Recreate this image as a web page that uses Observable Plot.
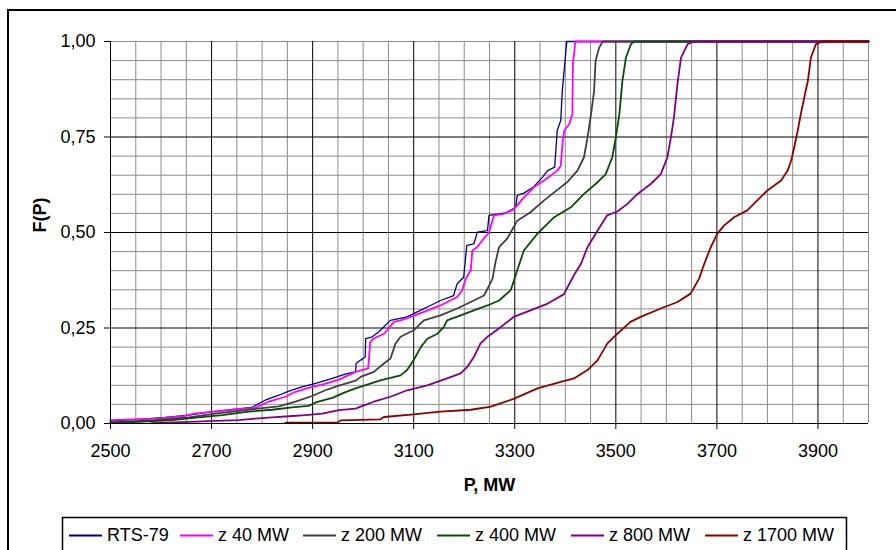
<!DOCTYPE html>
<html><head><meta charset="utf-8">
<script src="https://cdn.jsdelivr.net/npm/d3@7"></script>
<script src="https://cdn.jsdelivr.net/npm/@observablehq/plot@0.6"></script>
<style>
html,body{margin:0;padding:0;background:#fff;}
body{width:896px;height:550px;overflow:hidden;position:relative;font-family:"Liberation Sans",Arial,sans-serif;}
#chart{position:absolute;left:0;top:0;}
#overlay{position:absolute;left:0;top:0;pointer-events:none;}
</style>
</head><body>
<div id="chart"></div>
<svg id="overlay" width="896" height="550"></svg>
<script>
// ---- data ----
const seriesNames = ["RTS-79", "z 40 MW", "z 200 MW", "z 400 MW", "z 800 MW", "z 1700 MW"];
const seriesColors = ["#000080", "#ff00ff", "#404040", "#0a4a0a", "#800080", "#8b0000"];

const rtsP = [2500,2555,2608,2655,2701,2753,2780,2806,2833,2853,2879,2906,2939,2966,2985,2986,2995,3004,3005,3018,3031,3054,3087,3113,3133,3153,3179,3186,3199,3205,3219,3226,3246,3249,3282,3302,3305,3318,3337,3355,3365,3379,3384,3391,3394,3403,4000];
const rtsF = [0.007,0.011,0.016,0.022,0.031,0.038,0.042,0.061,0.074,0.085,0.096,0.105,0.118,0.13,0.135,0.157,0.166,0.174,0.222,0.227,0.24,0.27,0.279,0.296,0.309,0.322,0.335,0.366,0.383,0.466,0.47,0.501,0.505,0.545,0.551,0.566,0.597,0.603,0.619,0.645,0.662,0.671,0.767,0.793,0.87,1.0,1.0];

const z40P = [2500,2590,2645,2665,2712,2754,2787,2813,2846,2866,2892,2919,2952,2985,3010,3014,3020,3041,3047,3061,3074,3094,3120,3153,3186,3196,3203,3213,3216,3226,3239,3249,3259,3278,3295,3305,3318,3325,3338,3358,3384,3391,3395,3398,3408,3414,3415,3420,4000];
const z40F = [0.009,0.013,0.019,0.026,0.032,0.038,0.041,0.057,0.07,0.083,0.093,0.102,0.115,0.135,0.144,0.213,0.222,0.235,0.244,0.266,0.27,0.279,0.292,0.309,0.331,0.349,0.379,0.401,0.453,0.462,0.485,0.5,0.545,0.549,0.558,0.571,0.592,0.601,0.619,0.636,0.662,0.675,0.741,0.767,0.784,0.81,0.941,1.0,1.0];

const z200P = [2500,2589,2655,2707,2754,2800,2833,2866,2899,2925,2952,2985,2995,3021,3041,3054,3064,3074,3100,3120,3153,3186,3219,3239,3249,3256,3262,3269,3285,3305,3331,3358,3378,3404,3424,3437,3444,3450,3457,3460,3467,3474,4000];
const z200F = [0.003,0.009,0.016,0.026,0.033,0.04,0.045,0.057,0.072,0.087,0.099,0.112,0.122,0.135,0.157,0.17,0.209,0.227,0.244,0.27,0.283,0.301,0.322,0.335,0.36,0.379,0.423,0.462,0.484,0.531,0.553,0.584,0.605,0.632,0.662,0.697,0.749,0.801,0.871,0.95,0.984,1.0,1.0];

const z400P = [2500,2556,2622,2674,2721,2773,2820,2859,2892,2906,2939,2965,2985,3034,3074,3087,3100,3114,3127,3147,3160,3166,3193,3219,3246,3269,3292,3305,3318,3345,3378,3411,3437,3460,3480,3493,3500,3507,3513,3520,3530,3536,4000];
const z400F = [0.002,0.004,0.009,0.016,0.022,0.031,0.036,0.042,0.046,0.055,0.067,0.082,0.092,0.113,0.126,0.14,0.166,0.2,0.222,0.235,0.253,0.27,0.283,0.296,0.309,0.322,0.349,0.401,0.453,0.497,0.54,0.566,0.601,0.627,0.653,0.697,0.749,0.81,0.897,0.958,0.993,1.0,1.0];

const z800P = [2580,2654,2707,2754,2787,2820,2853,2886,2919,2952,2985,2995,3021,3054,3087,3127,3166,3193,3206,3219,3232,3246,3266,3298,3331,3365,3397,3417,3431,3444,3464,3483,3503,3523,3543,3569,3589,3602,3609,3615,3622,3629,3642,3655,4000];
const z800F = [0.001,0.004,0.007,0.009,0.013,0.016,0.019,0.022,0.026,0.035,0.039,0.044,0.057,0.07,0.087,0.1,0.118,0.131,0.148,0.174,0.209,0.227,0.246,0.279,0.296,0.314,0.338,0.388,0.418,0.462,0.505,0.545,0.555,0.575,0.601,0.627,0.653,0.697,0.749,0.801,0.889,0.958,0.993,1.0,1.0];

const z1700P = [2846,2950,2955,3034,3041,3100,3153,3213,3253,3299,3345,3391,3417,3444,3464,3483,3503,3529,3549,3589,3622,3648,3665,3675,3688,3701,3714,3734,3760,3780,3800,3827,3840,3847,3853,3860,3866,3873,3880,3886,3896,3909,4000];
const z1700F = [0.002,0.003,0.008,0.011,0.017,0.024,0.031,0.036,0.044,0.065,0.092,0.109,0.118,0.14,0.166,0.209,0.235,0.266,0.279,0.301,0.318,0.34,0.38,0.418,0.462,0.497,0.518,0.54,0.558,0.584,0.61,0.636,0.662,0.688,0.723,0.767,0.81,0.854,0.897,0.958,0.993,1.0,1.0];

const xTickLabels = [2500, 2700, 2900, 3100, 3300, 3500, 3700, 3900];
const yTickLabels = [0, 0.25, 0.5, 0.75, 1];
const xMinorGrid = [2550,2600,2650,2750,2800,2850,2950,3000,3050,3150,3200,3250,3350,3400,3450,3550,3600,3650,3750,3800,3850,3950,4000];
const xMajorGrid = [2500,2700,2900,3100,3300,3500,3700,3900];
const yMinorGrid = [0.05,0.1,0.15,0.2,0.3,0.35,0.4,0.45,0.55,0.6,0.65,0.7,0.8,0.85,0.9,0.95,1.0];
const yMajorGrid = [0, 0.25, 0.5, 0.75];

const allP = [rtsP, z40P, z200P, z400P, z800P, z1700P];
const allF = [rtsF, z40F, z200F, z400F, z800F, z1700F];
const widths = [1.3, 1.8, 1.8, 1.8, 1.8, 1.8];

const lineMarks = seriesNames.map((name, i) =>
  Plot.line(allP[i].map((p, j) => ({series: name, P: p, F: allF[i][j]})),
    {x: "P", y: "F", stroke: seriesColors[i], strokeWidth: widths[i], strokeLinejoin: "round"}));

const fmtY = d => d.toFixed(2).replace(".", ",");

const chart = Plot.plot({
  width: 896, height: 550,
  marginLeft: 110, marginRight: 28, marginTop: 41, marginBottom: 127,
  style: {fontFamily: "'Liberation Sans', Arial, sans-serif", fontSize: "18px", color: "#000", background: "transparent"},
  x: {domain: [2500, 4000]},
  y: {domain: [0, 1]},
  marks: [
    Plot.ruleX(xMinorGrid, {stroke: "#8c8c8c", strokeWidth: 1}),
    Plot.ruleY(yMinorGrid, {stroke: "#8c8c8c", strokeWidth: 1}),
    Plot.ruleX(xMajorGrid, {stroke: "#000", strokeWidth: 1}),
    Plot.ruleY(yMajorGrid, {stroke: "#000", strokeWidth: 1}),
    ...lineMarks,
    Plot.axisX({ticks: xTickLabels, tickSize: 6, tickPadding: 15, tickFormat: d => String(d), label: null, fontSize: 18}),
    Plot.axisY({ticks: yTickLabels, tickSize: 6, tickPadding: 9, tickFormat: fmtY, label: null, fontSize: 18}),
    Plot.ruleX([2500], {stroke: "#000", strokeWidth: 1}),
    Plot.ruleY([0], {stroke: "#000", strokeWidth: 1}),
    Plot.text(["P, MW"], {frameAnchor: "bottom", dy: 67, lineAnchor: "bottom", fontWeight: "bold", fontSize: 18, fill: "#000"}),
    Plot.text(["F(P)"], {frameAnchor: "left", dx: -70, rotate: -90, fontWeight: "bold", fontSize: 18, fill: "#000"})
  ]
});
document.getElementById("chart").appendChild(chart);

// ---- chart border and legend ----
const ov = d3.select("#overlay");
ov.append("rect").attr("x", 8).attr("y", 10).attr("width", 960).attr("height", 700)
  .attr("fill", "none").attr("stroke", "#000").attr("stroke-width", 2);
ov.append("rect").attr("x", 62.5).attr("y", 517.5).attr("width", 784).attr("height", 80)
  .attr("fill", "#fff").attr("stroke", "#000").attr("stroke-width", 1.5);
const legendStarts = [69, 180, 303, 437, 571, 705];
seriesNames.forEach((name, i) => {
  const x0 = legendStarts[i];
  ov.append("line").attr("x1", x0).attr("x2", x0 + 33).attr("y1", 535.5).attr("y2", 535.5)
    .attr("stroke", seriesColors[i]).attr("stroke-width", 2);
  ov.append("text").attr("x", x0 + 38).attr("y", 541).text(name)
    .attr("font-family", "'Liberation Sans', Arial, sans-serif").attr("font-size", 18).attr("fill", "#000");
});
</script>
</body></html>
